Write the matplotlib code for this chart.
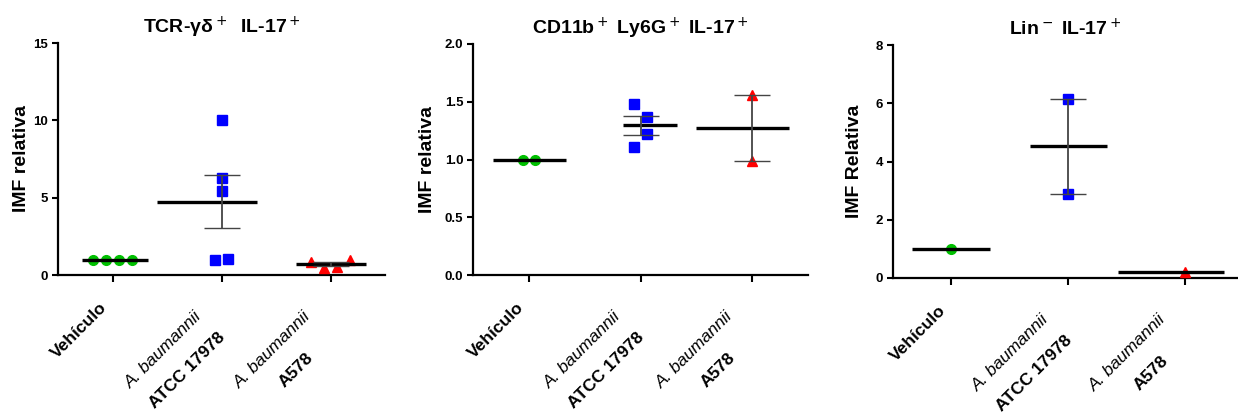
import numpy as np
import matplotlib
matplotlib.use("Agg")
import matplotlib.pyplot as plt

plt.rcParams["font.family"] = ["Liberation Sans", "DejaVu Sans"]

# group names (one tick label per group, each split in styled lines)
groups = ["Vehículo", "A. baumannii ATCC 17978", "A. baumannii A578"]
group_lines = [
    [("Vehículo", "normal", "bold")],
    [("A. baumannii", "italic", "normal"), ("ATCC 17978", "normal", "bold")],
    [("A. baumannii", "italic", "normal"), ("A578", "normal", "bold")],
]

titles = [r"TCR-γδ$^+$  IL-17$^+$", r"CD11b$^+$ Ly6G$^+$ IL-17$^+$", r"Lin$^-$ IL-17$^+$"]
ylabels = ["IMF relativa", "IMF relativa", "IMF Relativa"]
ylims = [15, 2.0, 8]
yticks = [[0, 5, 10, 15], [0.0, 0.5, 1.0, 1.5, 2.0], [0, 2, 4, 6, 8]]
ytick_fmt = ["{:.0f}", "{:.1f}", "{:.0f}"]

# relative IMF per animal
tcr_veh = [1.0, 1.0, 1.0, 1.0]
tcr_atcc = [10.0, 6.3, 5.4, 1.0, 1.05]
tcr_a578 = [0.86, 0.43, 0.54, 0.97]

cd11b_veh = [1.0, 1.0]
cd11b_atcc = [1.48, 1.37, 1.22, 1.11]
cd11b_a578 = [1.555, 0.99]

lin_veh = [1.0]
lin_atcc = [6.15, 2.9]
lin_a578 = [0.2]

panels = [
    [tcr_veh, tcr_atcc, tcr_a578],
    [cd11b_veh, cd11b_atcc, cd11b_a578],
    [lin_veh, lin_atcc, lin_a578],
]

# --- styling ---
colors = ["#00c000", "#0000ff", "#ff0000"]
markers = ["o", "s", "^"]
msizes = [7, 7, 7.5]

# horizontal spread of points inside each column (category units)
jitter = [
    [[-0.18, -0.06, 0.06, 0.18], [0, 0, 0, -0.06, 0.06], [-0.18, -0.06, 0.06, 0.18]],
    [[-0.055, 0.055], [-0.055, 0.06, 0.06, -0.055], [0, 0]],
    [[0], [0, 0], [0]],
]
# left extent of the mean line per column (right end is always +0.33)
mean_left = [
    [0.28, 0.59, 0.32],
    [0.32, 0.16, 0.50],
    [0.34, 0.33, 0.58],
]

# axes rectangles in pixels: left, bottom, width, height
W, H = 1238, 420
rects = [(58, 145, 327, 232), (473, 145, 335, 231), (893, 142, 345, 233)]
xlims = [(-0.5, 2.5), (-0.5, 2.5), (-0.5, 2.45)]
ylab_px = [28, 37, 30]
title_pad = [7, 7, 7]

fig = plt.figure(figsize=(W / 100, H / 100), dpi=100)

PX = 0.72  # points per pixel at 100 dpi

for p, data in enumerate(panels):
    l, b, w, h = rects[p]
    ax = fig.add_axes([l / W, b / H, w / W, h / H])

    for g, vals in enumerate(data):
        vals = np.asarray(vals, dtype=float)
        xs = g + np.asarray(jitter[p][g])
        ax.plot(xs, vals, linestyle="none", marker=markers[g], ms=msizes[g],
                color=colors[g], mec=colors[g], zorder=3, clip_on=False)
        m = vals.mean()
        ax.hlines(m, g - mean_left[p][g], g + 0.33, color="black", lw=2.4, zorder=4)
        if len(vals) > 1:
            sem = vals.std(ddof=1) / np.sqrt(len(vals))
            if sem > 0:
                ax.errorbar(g, m, yerr=sem, fmt="none", ecolor="#444444",
                            elinewidth=1.3, capsize=13, capthick=1.0, zorder=5)

    ax.set_xlim(*xlims[p])
    ax.set_ylim(0, ylims[p])
    ax.set_yticks(yticks[p])
    ax.set_yticklabels([ytick_fmt[p].format(v) for v in yticks[p]],
                       fontsize=9.5, fontweight="bold")
    ax.set_xticks(range(len(groups)))
    ax.set_xticklabels([])
    for s in ["top", "right"]:
        ax.spines[s].set_visible(False)
    for s in ["left", "bottom"]:
        ax.spines[s].set_linewidth(1.6)
    ax.tick_params(axis="both", width=1.5, direction="out")
    ax.tick_params(axis="y", length=4, pad=3)
    ax.tick_params(axis="x", length=5)

    ax.set_title(titles[p], fontsize=14, fontweight="bold", pad=title_pad[p])
    ax.set_ylabel(ylabels[p], fontsize=14, fontweight="bold")
    ax.yaxis.set_label_coords(-ylab_px[p] / w, 0.5)

    # rotated, two-style category labels
    for g, lines in enumerate(group_lines):
        if len(lines) == 1:
            offs = [(-33, -55)]
        else:
            offs = [(-58, -75), (-34, -95)]
        for (txt, style, weight), (ox, oy) in zip(lines, offs):
            ax.annotate(txt, xy=(g, 0), xycoords=("data", "axes fraction"),
                        xytext=(ox * PX, oy * PX), textcoords="offset points",
                        rotation=45, rotation_mode="anchor", ha="center", va="center",
                        fontsize=12.5, fontstyle=style, fontweight=weight)

fig.savefig("out.png", dpi=100)
